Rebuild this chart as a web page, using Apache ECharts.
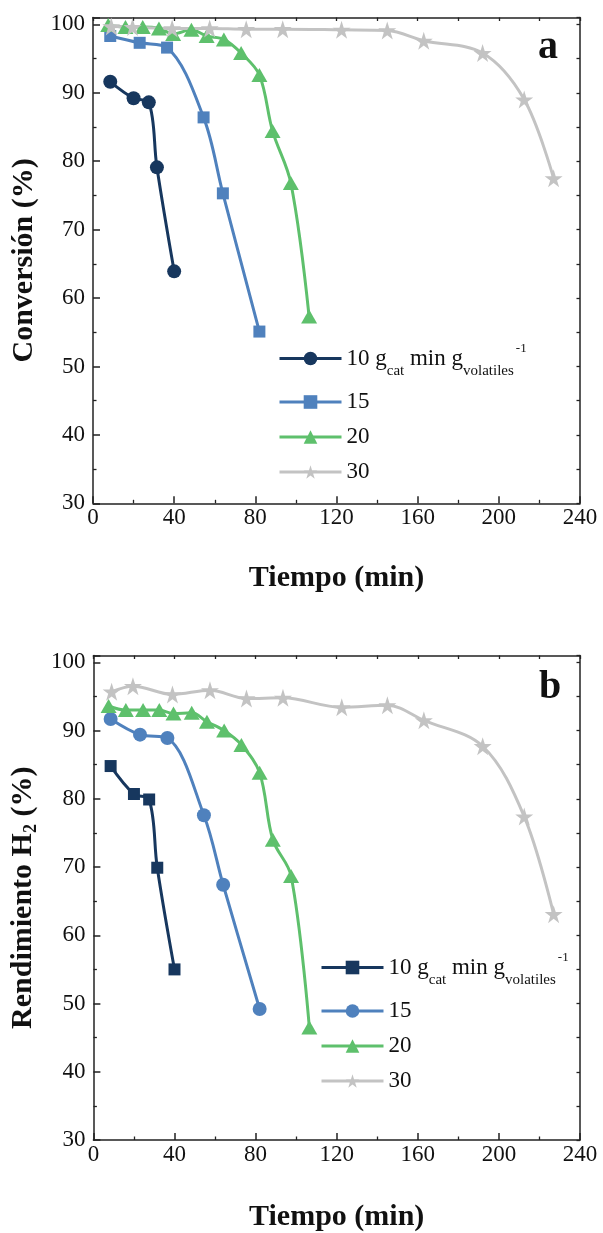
<!DOCTYPE html>
<html><head><meta charset="utf-8">
<script src="https://cdn.jsdelivr.net/npm/echarts@6/dist/echarts.min.js"></script>
<style>html,body{margin:0;padding:0;background:#fff}#c{width:603px;height:1233px}</style>
</head><body><div id="c"></div>
<script>
// ---- data ----
const t10 = [8.5, 20, 27.5, 31.5, 40];
const t15 = [8.5, 23, 36.5, 54.5, 64, 82];
const t20 = [7.5, 16, 24.5, 32.5, 39.5, 48.5, 56, 64.5, 73, 82, 88.5, 97.5, 106.5];
const t30 = [9, 19.5, 39, 57.5, 75.5, 93.5, 122.5, 145, 163, 192, 212.5, 227];

const conv10 = [91.6, 89.2, 88.6, 79.1, 63.9];
const conv15 = [98.3, 97.3, 96.6, 86.4, 75.3, 55.1];
const conv20 = [99.9, 99.6, 99.6, 99.4, 98.6, 99.2, 98.3, 97.8, 95.8, 92.6, 84.4, 76.8, 57.3];
const conv30 = [99.7, 99.6, 99.4, 99.4, 99.3, 99.3, 99.2, 99.1, 97.6, 95.8, 89.0, 77.5];

const h2_10 = [84.8, 80.7, 79.9, 69.9, 55.0];
const h2_15 = [91.7, 89.4, 88.9, 77.6, 67.4, 49.2];
const h2_20 = [93.6, 93.0, 93.0, 93.0, 92.5, 92.6, 91.3, 90.0, 87.9, 83.8, 74.0, 68.7, 46.5];
const h2_30 = [95.7, 96.5, 95.3, 95.9, 94.7, 94.8, 93.4, 93.7, 91.5, 87.7, 77.4, 63.1];

const xTickValues = [0, 40, 80, 120, 160, 200, 240];
const yTickValues = [30, 40, 50, 60, 70, 80, 90, 100];
const legendLabels = ['10', '15', '20', '30'];

// ---- styling ----
const F = '"Liberation Serif", "DejaVu Serif", serif';
const COL = ['#17375E', '#4F81BD', '#5EC06C', '#C3C3C3'];
const STAR = 'path://M50,0 L61.2,34.5 L97.6,34.5 L68.2,55.9 L79.4,90.5 L50,69.1 L20.6,90.5 L31.8,55.9 L2.4,34.5 L38.8,34.5 Z';
const AX = '#222';

const zip = (t, v) => t.map((x, i) => [x, v[i]]);

function xAxes(g, name, gap) {
  return [{
    gridIndex: g, type: 'value', position: 'bottom',
    min: xTickValues[0], max: xTickValues[xTickValues.length - 1], interval: xTickValues[1] - xTickValues[0],
    axisLine: {show: true, onZero: false, lineStyle: {color: AX, width: 1.5}},
    axisTick: {show: true, inside: true, length: 7, lineStyle: {color: AX, width: 1.5}},
    minorTick: {show: true, splitNumber: 2, length: 3.5, lineStyle: {color: AX, width: 1.3}},
    splitLine: {show: false},
    axisLabel: {fontFamily: F, fontSize: 23, color: '#111', margin: 3},
    name: name, nameLocation: 'middle', nameGap: gap,
    nameTextStyle: {fontFamily: F, fontSize: 30, fontWeight: 'bold', color: '#111'}
  }, {
    gridIndex: g, type: 'value', position: 'top',
    min: xTickValues[0], max: xTickValues[xTickValues.length - 1], interval: xTickValues[1] - xTickValues[0],
    axisLine: {show: true, onZero: false, lineStyle: {color: AX, width: 1.5}},
    axisTick: {show: true, inside: true, length: 3.5, lineStyle: {color: AX, width: 1.3}},
    minorTick: {show: true, splitNumber: 2, length: 3.5, lineStyle: {color: AX, width: 1.3}},
    splitLine: {show: false}, axisLabel: {show: false}
  }];
}
function yAxes(g, name, gap, rich) {
  return [{
    gridIndex: g, type: 'value', position: 'left',
    min: yTickValues[0], max: 101, interval: yTickValues[1] - yTickValues[0],
    axisLine: {show: true, onZero: false, lineStyle: {color: AX, width: 1.5}},
    axisTick: {show: true, inside: true, length: 7, lineStyle: {color: AX, width: 1.5}},
    minorTick: {show: true, splitNumber: 2, length: 3.5, lineStyle: {color: AX, width: 1.3}},
    splitLine: {show: false},
    axisLabel: {fontFamily: F, fontSize: 23, color: '#111', margin: 8,
      formatter: v => (v > yTickValues[yTickValues.length - 1] ? '' : String(v))},
    name: name, nameLocation: 'middle', nameGap: gap,
    nameTextStyle: Object.assign({fontFamily: F, fontSize: 30, fontWeight: 'bold', color: '#111'}, rich ? {rich: rich} : {})
  }, {
    gridIndex: g, type: 'value', position: 'right',
    min: yTickValues[0], max: 101, interval: yTickValues[1] - yTickValues[0],
    axisLine: {show: true, onZero: false, lineStyle: {color: AX, width: 1.5}},
    axisTick: {show: true, inside: true, length: 3.5, lineStyle: {color: AX, width: 1.3}},
    minorTick: {show: true, splitNumber: 2, length: 3.5, lineStyle: {color: AX, width: 1.3}},
    splitLine: {show: false}, axisLabel: {show: false}
  }];
}

function ser(name, data, color, symbol, size, xi, yi) {
  return {
    name: name, type: 'line', data: data, xAxisIndex: xi, yAxisIndex: yi,
    smooth: 0.35, symbol: symbol, symbolSize: size, showSymbol: true,
    lineStyle: {color: color, width: 3}, itemStyle: {color: color},
    emphasis: {disabled: true}, animation: false, z: 3
  };
}

const legendRich = {
  n: {fontFamily: F, fontSize: 23, color: '#111', lineHeight: 26},
  s: {fontFamily: F, fontSize: 15, color: '#111', padding: [25, 0, 0, 0]},
  p: {fontFamily: F, fontSize: 13, color: '#111', padding: [0, 0, 20, 2]}
};
function legendFmt(name) {
  const k = name.slice(1);
  if (k === legendLabels[0]) return '{n|' + k + ' g}{s|cat}{n| min g}{s|volatiles}{p|-1}';
  return '{n|' + k + '}';
}
function legend(prefix, left, top) {
  return {
    data: legendLabels.map(l => prefix + l), orient: 'vertical', left: left, top: top,
    itemWidth: 62, itemHeight: 17, itemGap: 12, selectedMode: false,
    lineStyle: {width: 3},
    textStyle: {fontFamily: F, fontSize: 23, color: '#111', rich: legendRich},
    formatter: legendFmt
  };
}

const chart = echarts.init(document.getElementById('c'), null, {renderer: 'canvas'});
chart.setOption({
  backgroundColor: '#fff',
  animation: false,
  grid: [
    {left: 93, right: 23, top: 17.5, height: 485.8},
    {left: 93, right: 23, top: 655.5, height: 485.5}
  ],
  xAxis: [].concat(xAxes(0, 'Tiempo (min)', 60), xAxes(1, 'Tiempo (min)', 62)),
  yAxis: [].concat(
    yAxes(0, 'Conversión (%)', 53),
    yAxes(1, '{t|Rendimiento H}{s|2}{t| (%)}', 49, {
      t: {fontFamily: F, fontSize: 30, fontWeight: 'bold', color: '#111'},
      s: {fontFamily: F, fontSize: 18, fontWeight: 'bold', color: '#111', padding: [16, 0, 0, 0]}
    })
  ),
  legend: [legend('a', 273, 337), legend('b', 315, 946)],
  graphic: [
    {type: 'text', left: 538, top: 28, style: {text: 'a', font: 'bold 40px ' + F, fill: '#111'}},
    {type: 'text', left: 539, top: 668, style: {text: 'b', font: 'bold 40px ' + F, fill: '#111'}}
  ],
  series: [
    ser('a10', zip(t10, conv10), COL[0], 'circle', 14, 0, 0),
    ser('a15', zip(t15, conv15), COL[1], 'rect', 12, 0, 0),
    ser('a20', zip(t20, conv20), COL[2], 'triangle', [16, 14], 0, 0),
    ser('a30', zip(t30, conv30), COL[3], STAR, 18, 0, 0),
    ser('b10', zip(t10, h2_10), COL[0], 'rect', 12, 2, 2),
    ser('b15', zip(t15, h2_15), COL[1], 'circle', 14, 2, 2),
    ser('b20', zip(t20, h2_20), COL[2], 'triangle', [16, 14], 2, 2),
    ser('b30', zip(t30, h2_30), COL[3], STAR, 18, 2, 2)
  ]
});
</script></body></html>
